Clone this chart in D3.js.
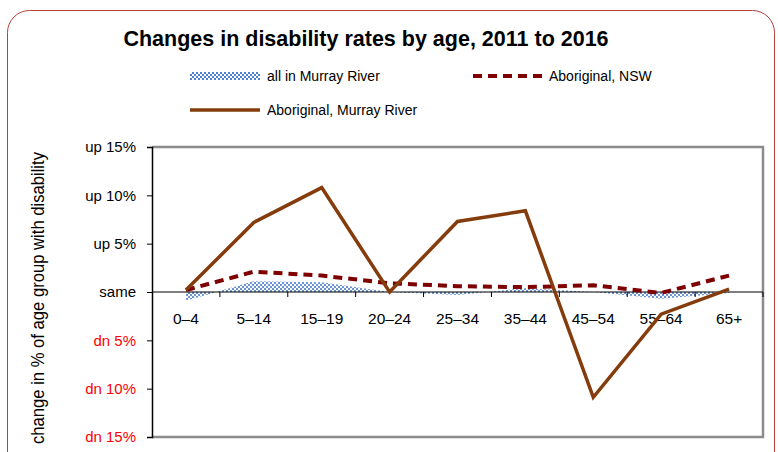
<!DOCTYPE html>
<html><head><meta charset="utf-8">
<script src="https://cdn.jsdelivr.net/npm/d3@7"></script>
<style>body{margin:0;background:#fff}svg{display:block;font-family:"Liberation Sans",Arial,sans-serif}</style>
</head><body>
<script>
const categories = ["0–4","5–14","15–19","20–24","25–34","35–44","45–54","55–64","65+"];
const allMurray = [-0.9, 1.1, 1.0, 0.0, -0.3, 0.4, 0.0, -0.7, -0.1];
const aboriginalNSW = [0.2, 2.1, 1.7, 0.9, 0.6, 0.5, 0.7, -0.1, 1.7];
const aboriginalMurray = [0.2, 7.2, 10.8, 0.0, 7.3, 8.4, -10.9, -2.3, 0.3];
const yTicks = [15, 10, 5, 0, -5, -10, -15];
const yTickLabels = ["up 15%","up 10%","up 5%","same","dn 5%","dn 10%","dn 15%"];

const W = 778, H = 452;
const svg = d3.select("body").append("svg").attr("width", W).attr("height", H);
const defs = svg.append("defs");
const pat = defs.append("pattern").attr("id","chk").attr("width",4).attr("height",4).attr("patternUnits","userSpaceOnUse");
pat.append("rect").attr("width",4).attr("height",4).attr("fill","#ffffff");
pat.append("rect").attr("width",2).attr("height",2).attr("fill","#4f81d0");
pat.append("rect").attr("x",2).attr("y",2).attr("width",2).attr("height",2).attr("fill","#4f81d0");

// outer rounded border
svg.append("rect").attr("x",7.5).attr("y",10.5).attr("width",767).attr("height",470).attr("rx",22)
  .attr("fill","none").attr("stroke","#b5413c").attr("stroke-width",1);

svg.append("text").attr("x",366).attr("y",46).attr("text-anchor","middle")
  .attr("font-size",21.5).attr("font-weight","bold").text("Changes in disability rates by age, 2011 to 2016");

const L = 152, R = 763, T = 147, B = 437;
const x = d3.scaleBand().domain(categories).range([L, R]);
const y = d3.scaleLinear().domain([-15, 15]).range([B, T]);

// plot border (gray)
svg.append("path").attr("d", `M${L},${T}H${R}V${B}H${L}`).attr("fill","none").attr("stroke","#8c8c8c").attr("stroke-width",2.5);

// area
const cx = d => x(d) + x.bandwidth()/2;
const area = d3.area().x((d,i)=>cx(categories[i])).y0(y(0)).y1(d=>y(d));
svg.append("path").datum(allMurray).attr("d", area).attr("fill","url(#chk)").attr("opacity",0.85);

// y axis
const yAxis = d3.axisLeft(y).tickValues(yTicks).tickSize(5).tickPadding(11).tickFormat((d,i)=>yTickLabels[yTicks.indexOf(d)]);
const ga = svg.append("g").attr("transform",`translate(${L},0)`).call(yAxis);
ga.select(".domain").attr("stroke","#000").attr("stroke-width",1.5);
ga.selectAll(".tick line").attr("stroke","#000");
ga.selectAll(".tick text").attr("font-size",15).attr("font-family","Liberation Sans, Arial, sans-serif")
  .attr("fill", d => d < 0 ? "#ff0000" : "#000");

// x axis at zero
const xb = svg.append("g").attr("transform",`translate(0,${y(0)})`);
xb.append("line").attr("x1",L).attr("x2",R).attr("stroke","#000").attr("stroke-width",1.2);
const bounds = categories.map(c => x(c) + x.bandwidth());
xb.selectAll("line.tk").data(bounds).enter().append("line").attr("class","tk")
  .attr("x1",d=>d).attr("x2",d=>d).attr("y1",0).attr("y2",5).attr("stroke","#000");
xb.selectAll("text").data(categories).enter().append("text")
  .attr("x", d=>cx(d)).attr("y", 32).attr("text-anchor","middle").attr("font-size",15.5).text(d=>d);

// lines
const line = d3.line().x((d,i)=>cx(categories[i])).y(d=>y(d));
svg.append("path").datum(aboriginalNSW).attr("d", line).attr("fill","none")
  .attr("stroke","#7f0000").attr("stroke-width",4).attr("stroke-dasharray","9,6");
svg.append("path").datum(aboriginalMurray).attr("d", line).attr("fill","none")
  .attr("stroke","#843c0c").attr("stroke-width",3.5).attr("stroke-linejoin","miter");

// y label
svg.append("text").attr("transform","translate(44,298) rotate(-90)").attr("text-anchor","middle")
  .attr("font-size",18.5).attr("textLength",292).attr("lengthAdjust","spacingAndGlyphs")
  .text("change in % of age group with disability");

// legend
const lg = svg.append("g");
lg.append("rect").attr("x",190).attr("y",72).attr("width",70).attr("height",8).attr("fill","url(#chk)");
lg.append("text").attr("x",267).attr("y",81).attr("font-size",14).text("all in Murray River");
lg.append("line").attr("x1",473).attr("x2",542).attr("y1",76).attr("y2",76).attr("stroke","#7f0000").attr("stroke-width",4).attr("stroke-dasharray","9,6");
lg.append("text").attr("x",549).attr("y",81).attr("font-size",14).text("Aboriginal, NSW");
lg.append("line").attr("x1",190).attr("x2",260).attr("y1",110).attr("y2",110).attr("stroke","#843c0c").attr("stroke-width",3.5);
lg.append("text").attr("x",267).attr("y",115).attr("font-size",14).text("Aboriginal, Murray River");
</script>
</body></html>
